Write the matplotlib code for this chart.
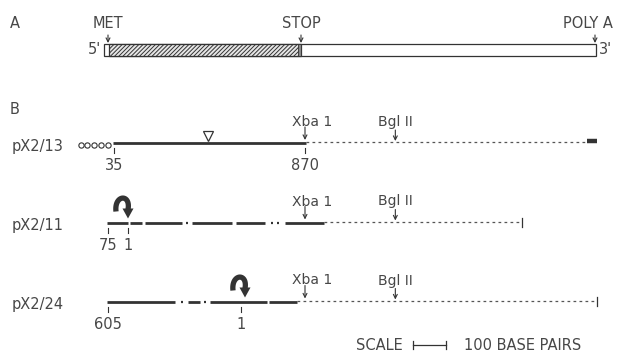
import numpy as np
import matplotlib
matplotlib.use("Agg")
import matplotlib.pyplot as plt
from matplotlib.patches import Rectangle, Polygon

plt.rcParams['font.family'] = ['DejaVu Sans']
plt.rcParams['hatch.color'] = '#444444'
plt.rcParams['hatch.linewidth'] = 0.7

TXT = '#474747'
LN = '#333333'
FS = 10.5

# positions in base pairs (MET = 0)
mrna_start, mrna_end = -12, 1464
met, stop, polya = 0, 579, 1461

clone_names = ['pX2/13', 'pX2/11', 'pX2/24']
clone_y = [143, 222.5, 301.5]          # track rows (layout)
xba_site = 591
bgl_site = 859

# pX2/13
c13_solid = [(15, 594)]
c13_tail = [-82, -63, -42, -21, -1]    # oligo(dC) tail
c13_dash_end = 1438
c13_triangle = 300
c13_ticks = [18, 591]
c13_ticklabels = ['35', '870']

# pX2/11
c11_solid = [(-3, 60), (66, 102), (111, 222), (252, 372), (384, 471), (531, 648)]
c11_dots = [237, 492, 510]
c11_dash_end = 1242
c11_ticks = [0, 60]
c11_ticklabels = ['75', '1']
c11_curl = 60

# pX2/24
c24_solid = [(-3, 201), (240, 276), (306, 477), (483, 567)]
c24_dots = [222, 291]
c24_dash_end = 1467
c24_ticks = [0, 399]
c24_ticklabels = ['605', '1']
c24_curl = 411

scale_bp = 100

fig = plt.figure(figsize=(6.28, 3.56), dpi=100)
ax = fig.add_axes([0, 0, 1, 1])
ax.set_xlim(-324, 1560)
ax.set_ylim(356, 0)
ax.axis('off')

PX = 3.0  # bp per pixel, for glyph sizes


def site_arrow(x, y0, y1, lw=0.8):
    ax.annotate('', xy=(x, y1), xytext=(x, y0),
                arrowprops=dict(arrowstyle='->', lw=lw, color=LN,
                                mutation_scale=7, shrinkA=0, shrinkB=0))


def curl(xt, y):
    # thick hooked arrow, tip pointing down at (xt, y)
    p0 = np.array([xt - 12 * PX, y - 7])
    p1 = np.array([xt - 14 * PX, y - 24])
    p2 = np.array([xt + 3 * PX, y - 25])
    p3 = np.array([xt, y - 9])
    t = np.linspace(0, 1, 40)[:, None]
    pts = (1 - t) ** 3 * p0 + 3 * (1 - t) ** 2 * t * p1 + 3 * (1 - t) * t ** 2 * p2 + t ** 3 * p3
    ax.plot(pts[:, 0], pts[:, 1], color=LN, lw=3.8, solid_capstyle='butt')
    ax.add_patch(Polygon([(xt - 5.5 * PX, y - 10), (xt + 5.5 * PX, y - 10), (xt, y)],
                         closed=True, color=LN, lw=0))


# ---------------- A ----------------
ax.text(-279, 24, 'A', color=TXT, fontsize=FS, ha='center', va='center')
ybar, hbar = 43.5, 12.5
ax.add_patch(Rectangle((mrna_start, ybar), mrna_end - mrna_start, hbar,
                       fc='white', ec=LN, lw=0.9))
ax.add_patch(Rectangle((met + 3, ybar), stop - met - 3, hbar,
                       fc='#e6e6e6', ec=LN, lw=0.9, hatch='////////'))
ax.add_patch(Rectangle((stop - 9, ybar), 9, hbar, fc='#888888', ec=LN, lw=0.6))
for x, lab in [(met, 'MET'), (stop, 'STOP'), (polya, 'POLY A')]:
    site_arrow(x, 35, 43)
    ax.text(x + (-22 if lab == 'POLY A' else 0), 24, lab, color=TXT, fontsize=FS,
            ha='center', va='center')
ax.text(mrna_start - 30, 50, "5'", color=TXT, fontsize=FS, ha='center', va='center')
ax.text(mrna_end + 30, 50, "3'", color=TXT, fontsize=FS, ha='center', va='center')

# ---------------- B ----------------
ax.text(-279, 109, 'B', color=TXT, fontsize=FS, ha='center', va='center')

clones = [
    (c13_solid, [], c13_dash_end, c13_ticks, c13_ticklabels, None),
    (c11_solid, c11_dots, c11_dash_end, c11_ticks, c11_ticklabels, c11_curl),
    (c24_solid, c24_dots, c24_dash_end, c24_ticks, c24_ticklabels, c24_curl),
]
for i, (name, y) in enumerate(zip(clone_names, clone_y)):
    solid, dots, dash_end, ticks, ticklabels, curl_x = clones[i]
    ax.text(-288, y + 3, name, color=TXT, fontsize=FS, ha='left', va='center')
    last = max(e for s, e in solid)
    for s, e in solid:
        ax.plot([s, e], [y, y], color=LN, lw=2.0, solid_capstyle='butt')
    for d in dots:
        ax.plot([d - 2, d + 2], [y, y], color=LN, lw=1.6, solid_capstyle='butt')
    ax.plot([last, dash_end], [y - 0.8, y - 0.8], color='#555555', lw=0.9,
            dashes=(2.2, 2.6))
    for t, lab in zip(ticks, ticklabels):
        ax.plot([t, t], [y + 5, y + 10], color=LN, lw=0.8)
        ax.text(t, y + 23, lab, color=TXT, fontsize=FS, ha='center', va='center')
    # restriction sites
    ax.text(xba_site + 21, y - 21, 'Xba 1', color=TXT, fontsize=FS - 0.5,
            ha='center', va='center')
    site_arrow(xba_site, y - 16, y - 3)
    ax.text(bgl_site + 3, y - 21, 'Bgl II', color=TXT, fontsize=FS - 0.5,
            ha='center', va='center')
    site_arrow(bgl_site + 3, y - 13, y - 2)
    if curl_x is not None:
        curl(curl_x, y - 4)
    if i > 0:
        ax.plot([dash_end, dash_end], [y - 5, y + 4], color=LN, lw=0.9)

# pX2/13 extras
y13 = clone_y[0]
ax.plot(c13_tail, [y13 + 1.5] * len(c13_tail), 'o', ms=3.8, mfc='white', mec=LN, mew=0.8)
ax.plot(c13_triangle, y13 - 7, marker='v', ms=7.5, mfc='white', mec=LN, mew=0.9)
ax.plot([c13_dash_end, c13_dash_end + 28], [y13 - 2.5, y13 - 2.5], color=LN, lw=3.2,
        solid_capstyle='butt')

# scale bar
ys = 345
xs = 915
ax.text(xs - 102, ys, 'SCALE', color=TXT, fontsize=FS, ha='center', va='center')
ax.plot([xs, xs + scale_bp], [ys, ys], color=LN, lw=0.9)
ax.plot([xs, xs], [ys - 4, ys + 4], color=LN, lw=0.9)
ax.plot([xs + scale_bp, xs + scale_bp], [ys - 4, ys + 4], color=LN, lw=0.9)
ax.text(xs + 152, ys, '100 BASE PAIRS', color=TXT, fontsize=FS, ha='left', va='center')

fig.savefig('out.png', dpi=100)
